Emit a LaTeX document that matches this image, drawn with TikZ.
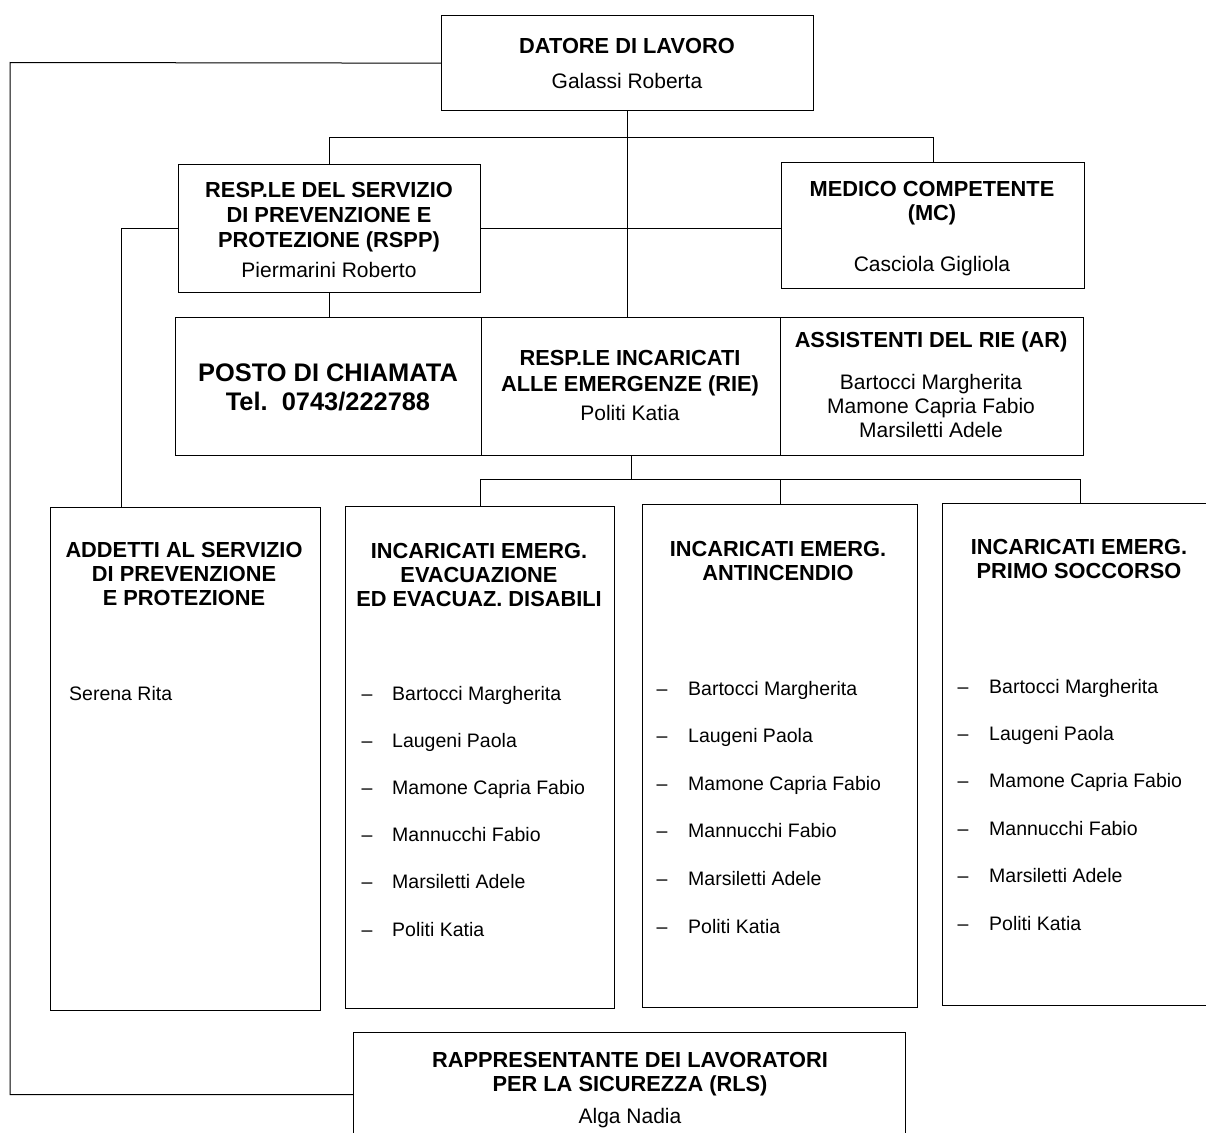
\documentclass[tikz,border=0pt]{standalone}
\usepackage{fontspec}
\setmainfont{Liberation Sans}
\begin{document}
\begin{tikzpicture}[x=1pt,y=-1pt,
  box/.style={draw, line width=1.3pt, inner sep=0pt, anchor=north west},
  ln/.style={line width=1pt},
  hd/.style={font=\fontsize{21.8}{25}\selectfont\bfseries, anchor=base, inner sep=0pt},
  big/.style={font=\fontsize{25.4}{29}\selectfont\bfseries, anchor=base, inner sep=0pt},
  nm/.style={font=\fontsize{21}{25}\selectfont, anchor=base, inner sep=0pt},
  li/.style={font=\fontsize{19.5}{23}\selectfont, anchor=base west, inner sep=0pt},
  ld/.style={font=\fontsize{19.5}{23}\selectfont, anchor=base, inner sep=0pt}]
\useasboundingbox (0,0) rectangle (1206,1132);
\clip (0,0) rectangle (1206,1132);
\fill[white] (0,0) rectangle (1206,1132);

% boxes
\node[box, minimum width=372pt, minimum height=95pt] (dat) at (441,15) {};
\node[box, minimum width=302pt, minimum height=128pt] (rspp) at (178,164) {};
\node[box, minimum width=303pt, minimum height=126pt] (mc) at (781,162) {};
\node[box, minimum width=306pt, minimum height=138pt] (posto) at (175,317) {};
\node[box, minimum width=299pt, minimum height=138pt] (rie) at (481,317) {};
\node[box, minimum width=303pt, minimum height=138pt] (ar) at (780,317) {};
\node[box, minimum width=270pt, minimum height=503pt] (add) at (50,507) {};
\node[box, minimum width=269pt, minimum height=502pt] (evac) at (345,506) {};
\node[box, minimum width=275pt, minimum height=503pt] (anti) at (642,504) {};
\node[box, minimum width=275pt, minimum height=502pt] (primo) at (942,503) {};
\node[box, minimum width=552pt, minimum height=124pt] (rls) at (353,1032) {};

% connectors
\coordinate (cL) at (10,62.5);
\coordinate (addin) at (121,507);
\draw[ln] (dat.west) -- (cL) |- (rls.west);
\draw[ln] (dat.south) -- (dat.south |- rie.north);
\draw[ln] (rspp.north) -- ++(0,-27) -| (mc.north);
\draw[ln] (rspp.east) -- (rspp.east -| mc.west);
\draw[ln] (rspp.south) -- (rspp.south |- posto.north);
\draw[ln] (rspp.west) -| (addin);
\draw[ln] (rie.south) -- ++(0,23) coordinate (bus);
\draw[ln] (evac.north) -- (evac.north |- bus) -| (primo.north);
\draw[ln] (anti.north) -- (anti.north |- bus);

% texts
\node[hd] (t1) at (627,53) {DATORE DI LAVORO};
\node[nm] (t2) at (627,88) {Galassi Roberta};

\node[hd] (r1) at (329,197) {RESP.LE DEL SERVIZIO};
\node[hd] (r2) at (329,222) {DI PREVENZIONE E};
\node[hd] (r3) at (329,247) {PROTEZIONE (RSPP)};
\node[nm] (r4) at (329,277) {Piermarini Roberto};

\node[hd] (m1) at (932,196) {MEDICO COMPETENTE};
\node[hd] (m2) at (932,220) {(MC)};
\node[nm] (m3) at (932,271) {Casciola Gigliola};

\node[big] (p1) at (328,381) {POSTO DI CHIAMATA};
\node[big] (p2) at (328,410) {Tel.~~0743/222788};

\node[hd] (e1) at (630,365) {RESP.LE INCARICATI};
\node[hd] (e2) at (630,391) {ALLE EMERGENZE (RIE)};
\node[nm] (e3) at (630,420) {Politi Katia};

\node[hd] (a1) at (931,347) {ASSISTENTI DEL RIE (AR)};
\node[nm] (a2) at (931,389) {Bartocci Margherita};
\node[nm] (a3) at (931,413) {Mamone Capria Fabio};
\node[nm] (a4) at (931,437) {Marsiletti Adele};

\node[hd] (d1) at (184,557) {ADDETTI AL SERVIZIO};
\node[hd] (d2) at (184,581) {DI PREVENZIONE};
\node[hd] (d3) at (184,605) {E PROTEZIONE};
\node[li] (d4) at (69,700) {Serena Rita};

\node[hd] (v1) at (479,558) {INCARICATI EMERG.};
\node[hd] (v2) at (479,582) {EVACUAZIONE};
\node[hd] (v3) at (479,606) {ED EVACUAZ. DISABILI};

\node[hd] (n1) at (778,556) {INCARICATI EMERG.};
\node[hd] (n2) at (778,580) {ANTINCENDIO};

\node[hd] (s1) at (1079,554) {INCARICATI EMERG.};
\node[hd] (s2) at (1079,578) {PRIMO SOCCORSO};

\foreach \nome [count=\i from 0] in {Bartocci Margherita, Laugeni Paola, Mamone Capria Fabio, Mannucchi Fabio, Marsiletti Adele, Politi Katia} {
  \node[ld] (vd\i) at (367,700+47.2*\i) {\textendash};
  \node[li] (vn\i) at (392,700+47.2*\i) {\nome};
  \node[ld] (nd\i) at (662,695+47.6*\i) {\textendash};
  \node[li] (nn\i) at (688,695+47.6*\i) {\nome};
  \node[ld] (sd\i) at (963,693+47.4*\i) {\textendash};
  \node[li] (sn\i) at (989,693+47.4*\i) {\nome};
}

\node[hd] (l1) at (630,1067) {RAPPRESENTANTE DEI LAVORATORI};
\node[hd] (l2) at (630,1091) {PER LA SICUREZZA (RLS)};
\node[nm] (l3) at (630,1123) {Alga Nadia};
\end{tikzpicture}
\end{document}
